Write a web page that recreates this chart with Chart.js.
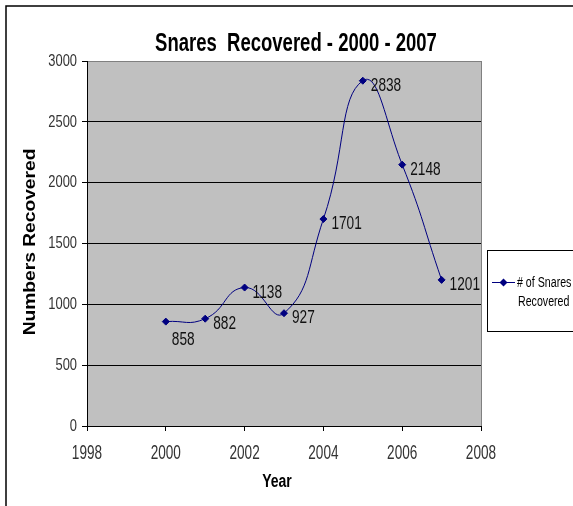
<!DOCTYPE html>
<html lang="en">
<head>
<meta charset="UTF-8">
<title>Snares Recovered - 2000 - 2007</title>
<script src="https://cdn.jsdelivr.net/npm/chart.js@4.4.0/dist/chart.umd.min.js"></script>
<style>
    html, body { margin: 0; padding: 0; background: #fff; }
    #wrap { width: 573px; height: 506px; }
</style>
</head>
<body>
<div id="wrap"><canvas id="snaresChart" width="573" height="506"></canvas></div>
<script>
    // data
    const years = [2000, 2001, 2002, 2003, 2004, 2005, 2006, 2007];
    const snares = [858, 882, 1138, 927, 1701, 2838, 2148, 1201];
    const yTicks = [0, 500, 1000, 1500, 2000, 2500, 3000];
    const xTicks = [1998, 2000, 2002, 2004, 2006, 2008];
    const chartTitle = 'Snares  Recovered - 2000 - 2007';
    const xTitle = 'Year';
    const yTitle = 'Numbers Recovered';
    const seriesName = ['# of Snares', 'Recovered'];

    const NAVY = '#000080';
    const FONT = "'Liberation Sans', Arial, sans-serif";

    // the old excel picture is stretched vertically, so text gets squeezed sideways
    function drawText(ctx, text, x, y, opts) {
        ctx.save();
        ctx.font = opts.font;
        ctx.fillStyle = opts.color || '#000';
        ctx.textAlign = opts.align || 'left';
        ctx.textBaseline = opts.baseline || 'middle';
        ctx.translate(x, y);
        if (opts.rotate) ctx.rotate(opts.rotate);
        ctx.scale(opts.sx || 1, 1);
        ctx.fillText(text, 0, 0);
        ctx.restore();
    }

    const excelLook = {
        id: 'excelLook',
        beforeDraw(chart) {
            const { ctx, chartArea: a } = chart;
            ctx.save();
            ctx.fillStyle = '#fff';
            ctx.fillRect(0, 0, chart.width, chart.height);
            ctx.fillStyle = '#C0C0C0';
            ctx.fillRect(a.left, a.top, a.right - a.left, a.bottom - a.top);
            // outer frame
            ctx.strokeStyle = '#000';
            ctx.lineWidth = 1.5;
            ctx.beginPath();
            ctx.moveTo(6, 506);
            ctx.lineTo(6, 6);
            ctx.lineTo(573, 6);
            ctx.stroke();
            ctx.restore();
        },
        afterDraw(chart) {
            const { ctx, chartArea: a, scales } = chart;
            // right edge of the plot area
            ctx.save();
            ctx.strokeStyle = '#808080';
            ctx.lineWidth = 1;
            ctx.beginPath();
            ctx.moveTo(a.right + 0.5, a.top);
            ctx.lineTo(a.right + 0.5, a.bottom);
            ctx.stroke();
            ctx.restore();

            // tick labels
            scales.y.ticks.forEach(t => {
                drawText(ctx, String(t.value), a.left - 10, scales.y.getPixelForValue(t.value),
                    { font: '17px ' + FONT, align: 'right', sx: 0.76, color: '#333' });
            });
            scales.x.ticks.forEach(t => {
                drawText(ctx, String(t.value), scales.x.getPixelForValue(t.value), a.bottom + 27,
                    { font: '20px ' + FONT, align: 'center', sx: 0.68, color: '#333' });
            });

            // titles
            drawText(ctx, chartTitle, 296, 44, { font: 'bold 25px ' + FONT, align: 'center', sx: 0.74 });
            drawText(ctx, xTitle, 277, 482, { font: 'bold 18px ' + FONT, align: 'center', sx: 0.78 });
            drawText(ctx, yTitle, 31, 242, { font: 'bold 16px ' + FONT, align: 'center', sx: 1.2, rotate: -Math.PI / 2 });

            // legend box
            ctx.save();
            ctx.fillStyle = '#fff';
            ctx.fillRect(487.5, 250.5, 100, 81);
            ctx.strokeStyle = '#000';
            ctx.lineWidth = 1;
            ctx.strokeRect(487.5, 250.5, 100, 81);
            ctx.strokeStyle = NAVY;
            ctx.beginPath();
            ctx.moveTo(492, 282.5);
            ctx.lineTo(515, 282.5);
            ctx.stroke();
            ctx.fillStyle = NAVY;
            ctx.beginPath();
            ctx.moveTo(503.5, 278.5);
            ctx.lineTo(507.5, 282.5);
            ctx.lineTo(503.5, 286.5);
            ctx.lineTo(499.5, 282.5);
            ctx.closePath();
            ctx.fill();
            ctx.restore();
            drawText(ctx, seriesName[0], 517, 283, { font: '14px ' + FONT, sx: 0.76 });
            drawText(ctx, seriesName[1], 518, 302, { font: '14px ' + FONT, sx: 0.76 });
        },
        afterDatasetsDraw(chart) {
            const { ctx } = chart;
            const meta = chart.getDatasetMeta(0);
            meta.data.forEach((pt, i) => {
                // excel dropped the first label under its point
                const dx = i === 0 ? 6 : 8;
                const dy = i === 0 ? 18 : 5;
                drawText(ctx, String(snares[i]), pt.x + dx, pt.y + dy,
                    { font: '18px ' + FONT, sx: 0.76, color: '#111' });
            });
        }
    };

    const ctx = document.getElementById('snaresChart').getContext('2d');
    new Chart(ctx, {
        type: 'line',
        data: {
            datasets: [{
                label: seriesName.join(' '),
                data: years.map((y, i) => ({ x: y, y: snares[i] })),
                borderColor: NAVY,
                backgroundColor: NAVY,
                borderWidth: 1,
                tension: 0.5,
                pointStyle: 'rectRot',
                pointRadius: 3.5,
                pointBackgroundColor: NAVY,
                pointBorderColor: NAVY,
                fill: false
            }]
        },
        options: {
            responsive: false,
            animation: false,
            layout: { padding: { top: 61, right: 92, bottom: 0, left: 0 } },
            plugins: {
                legend: { display: false },
                title: { display: false },
                tooltip: { enabled: false }
            },
            scales: {
                x: {
                    type: 'linear',
                    min: xTicks[0],
                    max: xTicks[xTicks.length - 1],
                    afterBuildTicks: s => { s.ticks = xTicks.map(v => ({ value: v })); },
                    afterFit: s => { s.height = 80; },
                    ticks: { display: false },
                    grid: { drawOnChartArea: false, drawTicks: true, tickLength: 5, tickColor: '#000' },
                    border: { color: '#000', width: 1 }
                },
                y: {
                    min: yTicks[0],
                    max: yTicks[yTicks.length - 1],
                    afterBuildTicks: s => { s.ticks = yTicks.map(v => ({ value: v })); },
                    afterFit: s => { s.width = 87; },
                    ticks: { display: false },
                    grid: {
                        color: c => (c.tick && c.tick.value === 3000) ? '#808080' : '#000',
                        lineWidth: 1,
                        drawTicks: true,
                        tickLength: 5,
                        tickColor: '#000'
                    },
                    border: { color: '#000', width: 1 }
                }
            }
        },
        plugins: [excelLook]
    });
</script>
</body>
</html>
